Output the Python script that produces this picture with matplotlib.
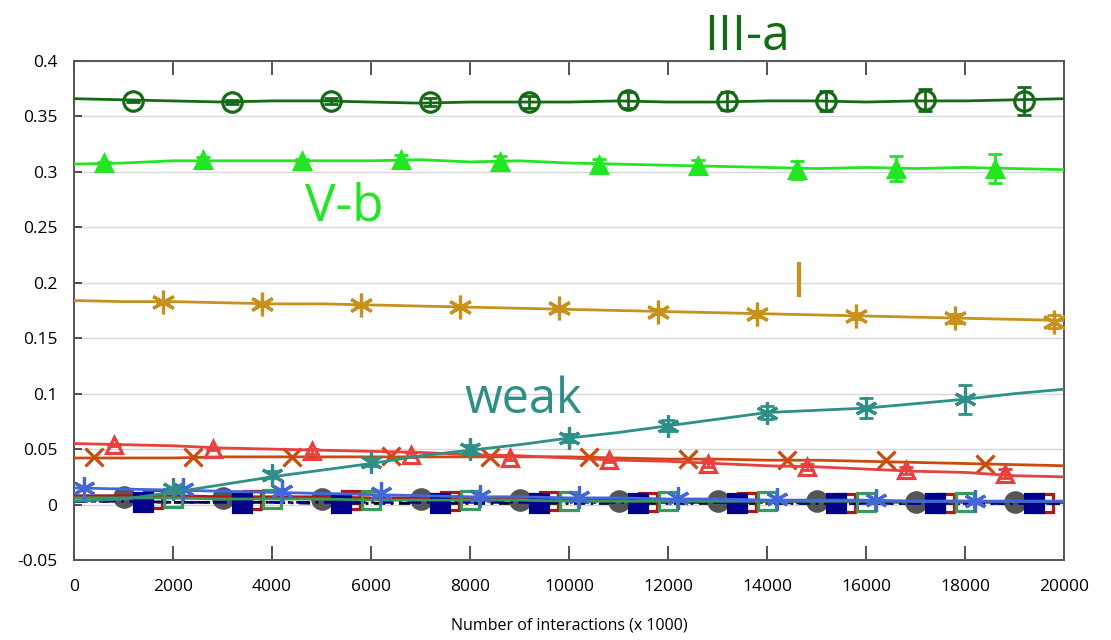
import matplotlib
matplotlib.use("Agg")
import matplotlib.pyplot as plt
import numpy as np

plt.rcParams['font.family'] = ['Open Sans', 'DejaVu Sans']

# ---------------- data ----------------
x_line = [0, 1000, 2000, 3000, 4000, 5000, 6000, 7000, 8000, 9000, 10000,
          11000, 12000, 13000, 14000, 15000, 16000, 17000, 18000, 19000, 20000]

# III-a
iiia_line = [0.366, 0.365, 0.364, 0.363, 0.364, 0.364, 0.363, 0.362, 0.363, 0.363, 0.363,
             0.364, 0.363, 0.363, 0.364, 0.364, 0.363, 0.364, 0.364, 0.365, 0.366]
iiia_mx = [1200, 3200, 5200, 7200, 9200, 11200, 13200, 15200, 17200, 19200]
iiia_my = [0.364, 0.363, 0.364, 0.363, 0.363, 0.365, 0.364, 0.364, 0.365, 0.364]
iiia_err = [0.001, 0.002, 0.003, 0.004, 0.005, 0.007, 0.008, 0.009, 0.010, 0.013]

# V-b
vb_line = [0.307, 0.308, 0.310, 0.310, 0.310, 0.310, 0.310, 0.311, 0.309, 0.310, 0.308,
           0.307, 0.306, 0.305, 0.304, 0.303, 0.304, 0.303, 0.304, 0.303, 0.302]
vb_mx = [600, 2600, 4600, 6600, 8600, 10600, 12600, 14600, 16600, 18600]
vb_my = [0.308, 0.311, 0.310, 0.311, 0.309, 0.306, 0.305, 0.302, 0.303, 0.303]
vb_err = [0.001, 0.002, 0.002, 0.004, 0.005, 0.006, 0.006, 0.008, 0.011, 0.013]

# I
i_line = [0.184, 0.183, 0.183, 0.182, 0.181, 0.181, 0.180, 0.179, 0.178, 0.177, 0.176,
          0.175, 0.174, 0.173, 0.172, 0.171, 0.170, 0.169, 0.168, 0.167, 0.166]
i_mx = [1800, 3800, 5800, 7800, 9800, 11800, 13800, 15800, 17800, 19800]
i_my = [0.183, 0.181, 0.180, 0.178, 0.177, 0.174, 0.172, 0.170, 0.168, 0.165]
i_err = [0.001, 0.001, 0.001, 0.002, 0.002, 0.002, 0.003, 0.003, 0.004, 0.006]

# weak
weak_line = [0.003, 0.005, 0.011, 0.018, 0.025, 0.031, 0.037, 0.044, 0.049, 0.054, 0.060,
             0.065, 0.071, 0.077, 0.083, 0.085, 0.087, 0.091, 0.095, 0.100, 0.104]
weak_mx = [2000, 4000, 6000, 8000, 10000, 12000, 14000, 16000, 18000]
weak_my = [0.014, 0.027, 0.038, 0.050, 0.060, 0.071, 0.083, 0.087, 0.095]
weak_err = [0.002, 0.003, 0.003, 0.004, 0.004, 0.005, 0.006, 0.009, 0.013]

# red triangles
tri_line = [0.055, 0.054, 0.053, 0.051, 0.050, 0.049, 0.048, 0.047, 0.045, 0.044, 0.042,
            0.040, 0.039, 0.037, 0.035, 0.034, 0.032, 0.030, 0.029, 0.026, 0.025]
tri_mx = [800, 2800, 4800, 6800, 8800, 10800, 12800, 14800, 16800, 18800]
tri_my = [0.054, 0.050, 0.048, 0.045, 0.042, 0.040, 0.037, 0.034, 0.031, 0.028]
tri_err = [0.001, 0.001, 0.002, 0.002, 0.002, 0.002, 0.003, 0.003, 0.003, 0.004]

# orange crosses
crs_line = [0.042, 0.042, 0.042, 0.043, 0.043, 0.043, 0.043, 0.043, 0.043, 0.043, 0.043,
            0.042, 0.041, 0.041, 0.040, 0.040, 0.039, 0.038, 0.037, 0.036, 0.035]
crs_mx = [400, 2400, 4400, 6400, 8400, 10400, 12400, 14400, 16400, 18400]
crs_my = [0.043, 0.043, 0.043, 0.044, 0.043, 0.043, 0.041, 0.040, 0.040, 0.037]

# blue asterisks
blu_line = [0.015, 0.014, 0.013, 0.012, 0.011, 0.010, 0.009, 0.008, 0.007, 0.007, 0.006,
            0.006, 0.005, 0.005, 0.004, 0.004, 0.004, 0.003, 0.003, 0.003, 0.003]
blu_mx = [200, 2200, 4200, 6200, 8200, 10200, 12200, 14200, 16200, 18200]
blu_my = [0.015, 0.014, 0.012, 0.010, 0.008, 0.007, 0.006, 0.005, 0.004, 0.003]

# gray circles
gry_line = [0.007, 0.007, 0.006, 0.006, 0.006, 0.005, 0.005, 0.005, 0.004, 0.004, 0.004,
            0.003, 0.003, 0.003, 0.003, 0.003, 0.002, 0.002, 0.002, 0.002, 0.002]
gry_mx = [1000, 3000, 5000, 7000, 9000, 11000, 13000, 15000, 17000, 19000]
gry_my = [0.007, 0.006, 0.005, 0.005, 0.004, 0.003, 0.003, 0.003, 0.002, 0.002]

# dark red open squares
drd_line = [0.008, 0.008, 0.008, 0.007, 0.007, 0.007, 0.006, 0.006, 0.005, 0.005, 0.005,
            0.004, 0.004, 0.004, 0.003, 0.003, 0.003, 0.003, 0.003, 0.002, 0.002]
drd_mx = [1600, 3600, 5600, 7600, 9600, 11600, 13600, 15600, 17600, 19600]
drd_my = [0.005, 0.004, 0.004, 0.003, 0.003, 0.002, 0.002, 0.001, 0.001, 0.001]

# navy filled squares
nvy_line = [0.003, 0.003, 0.002, 0.002, 0.002, 0.002, 0.002, 0.002, 0.002, 0.002, 0.002,
            0.002, 0.002, 0.002, 0.002, 0.001, 0.001, 0.001, 0.001, 0.001, 0.001]
nvy_mx = [1400, 3400, 5400, 7400, 9400, 11400, 13400, 15400, 17400, 19400]
nvy_my = [0.002, 0.001, 0.001, 0.001, 0.001, 0.001, 0.001, 0.001, 0.001, 0.001]

# green open squares
grn_line = [0.006, 0.006, 0.006, 0.005, 0.005, 0.005, 0.004, 0.004, 0.004, 0.004, 0.003,
            0.003, 0.003, 0.003, 0.003, 0.003, 0.003, 0.003, 0.003, 0.003, 0.003]
grn_mx = [2000, 4000, 6000, 8000, 10000, 12000, 14000, 16000, 18000]
grn_my = [0.006, 0.005, 0.004, 0.004, 0.003, 0.003, 0.003, 0.002, 0.002]

# black dash-dot
blk_line = [0.003, 0.003, 0.002, 0.002, 0.002, 0.001, 0.001, 0.001, 0.001, 0.001, 0.001,
            0.001, 0.001, 0.001, 0.001, 0.001, 0.001, 0.001, 0.001, 0.001, 0.001]

y_ticks = [-0.05, 0, 0.05, 0.1, 0.15, 0.2, 0.25, 0.3, 0.35, 0.4]
y_ticklabels = ['-0.05', '0', '0.05', '0.1', '0.15', '0.2', '0.25', '0.3', '0.35', '0.4']
x_ticks = [0, 2000, 4000, 6000, 8000, 10000, 12000, 14000, 16000, 18000, 20000]
x_label = 'Number of interactions (x 1000)'

labels = ['III-a', 'V-b', 'I', 'weak']

# ---------------- colors ----------------
c_iiia = '#156b15'
c_vb = '#22e622'
c_i = '#c8901c'
c_weak = '#2e8f88'
c_tri = '#e8403f'
c_crs = '#cc4a0c'
c_blu = '#4466dd'
c_gry = '#555555'
c_drd = '#b01818'
c_nvy = '#00008b'
c_grn = '#3a9a5a'

fig = plt.figure(figsize=(11.11, 6.4), dpi=100)
ax = fig.add_axes([74 / 1111, 1 - 560 / 640, (1064 - 74) / 1111, (560 - 61) / 640])

asterisk = (6, 2, 0)
lw = 2.0
mew = 2.3

def series(line, mx, my, err, color, marker, ms, filled, z, ls='-'):
    ax.plot(x_line, line, color=color, lw=lw, ls=ls, zorder=z)
    fc = color if filled else 'none'
    if err is not None:
        ax.errorbar(mx, my, yerr=err, fmt='none', ecolor=color, elinewidth=2,
                    capsize=5, capthick=2, zorder=z + 0.1)
    ax.plot(mx, my, ls='none', marker=marker, ms=ms, mfc=fc, mec=color,
            mew=mew, zorder=z + 0.2)

series(blk_line, [], [], None, 'black', 'o', 1, True, 2, ls=(0, (4, 2, 1, 2)))
series(gry_line, gry_mx, gry_my, None, c_gry, 'o', 14, True, 3)
series(drd_line, drd_mx, drd_my, None, c_drd, 's', 13, False, 3.5)
series(nvy_line, nvy_mx, nvy_my, None, c_nvy, 's', 13, True, 4, ls=(0, (5, 2, 1, 2)))
series(grn_line, grn_mx, grn_my, None, c_grn, 's', 13, False, 4.5)
series(blu_line, blu_mx, blu_my, None, c_blu, asterisk, 16, False, 5)
series(crs_line, crs_mx, crs_my, None, c_crs, 'x', 13, False, 5.5)
series(tri_line, tri_mx, tri_my, tri_err, c_tri, '^', 12, False, 6)
series(weak_line, weak_mx, weak_my, weak_err, c_weak, asterisk, 16, False, 6.5)
series(i_line, i_mx, i_my, i_err, c_i, asterisk, 17, False, 7)
series(vb_line, vb_mx, vb_my, vb_err, c_vb, '^', 12, True, 7.5)
series(iiia_line, iiia_mx, iiia_my, iiia_err, c_iiia, 'o', 14, False, 8)

ax.set_xlim(0, 20000)
ax.set_ylim(-0.05, 0.4)
ax.set_yticks(y_ticks)
ax.set_yticklabels(y_ticklabels)
ax.set_xticks(x_ticks)
ax.set_xticklabels([str(v) for v in x_ticks])
ax.grid(axis='y', color='#d8d8d8', lw=1.0, zorder=0)
ax.set_axisbelow(True)
for s in ax.spines.values():
    s.set_color('#555555')
    s.set_linewidth(1.4)
ax.tick_params(axis='x', direction='in', top=True, bottom=True, length=10,
               width=1.2, color='#333333', labelsize=12.5, pad=14)
ax.tick_params(axis='y', direction='in', left=True, right=False, length=6,
               width=1.2, color='#333333', labelsize=12.5, pad=12)
ax.set_xlabel(x_label, fontsize=11.5, labelpad=16)

ax.text(13600, 0.4097, labels[0], color=c_iiia, fontsize=36, ha='center', va='baseline',
        clip_on=False)
ax.text(5455, 0.2563, labels[1], color=c_vb, fontsize=37, ha='center', va='baseline')
ax.text(14626, 0.1868, labels[2], color=c_i, fontsize=36, ha='center', va='baseline')
ax.text(9071, 0.083, labels[3], color=c_weak, fontsize=35, ha='center', va='baseline')

fig.savefig('out.png', dpi=100)
